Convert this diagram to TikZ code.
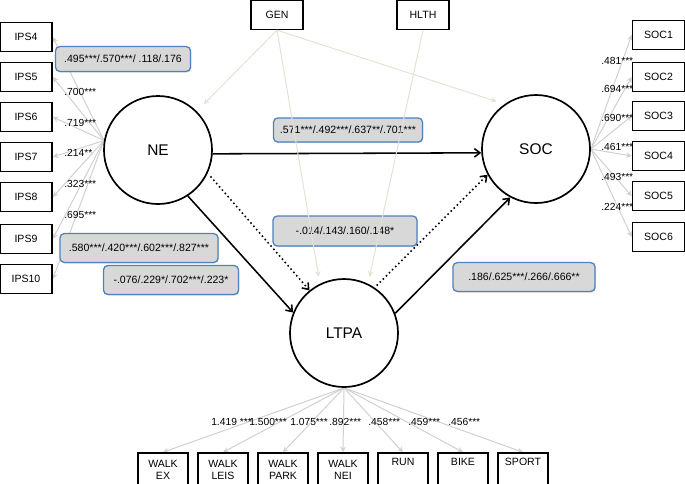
\documentclass[tikz,border=0pt]{standalone}
\usepackage{fontspec}
\setmainfont{Liberation Sans}
\usetikzlibrary{arrows.meta, shadows}
\definecolor{borde}{RGB}{79,129,189}
\definecolor{relleno}{RGB}{216,216,216}
\definecolor{guia}{RGB}{228,226,212}
\definecolor{gris}{RGB}{208,208,208}
\pgfdeclarelayer{fondo}
\pgfsetlayers{fondo,main}

\begin{document}
\begin{tikzpicture}[x = .025cm, y = -.025cm,
  caja/.style = {draw, fill = white, line width = 1.1, minimum width = 1.3cm, minimum height = .72cm,
    inner sep = 1pt, font = \fontsize{7.5}{9}\selectfont},
  abajo/.style = {caja, minimum width = 1.25cm, minimum height = .85cm, align = center},
  latente/.style = {draw, circle, fill = white, line width = 1.2, minimum size = 2.7cm,
    font = \fontsize{11}{13}\selectfont},
  coef/.style = {anchor = west, inner sep = 0pt, font = \fontsize{7.3}{8}\selectfont},
  cuadro/.style = {draw = borde, fill = relleno, rounded corners = 3pt, line width = .9,
    font = \fontsize{7.5}{9}\selectfont,
    drop shadow = {opacity = .25, shadow xshift = .6pt, shadow yshift = -.8pt}},
  efecto/.style = {-{Straight Barb[length = 4pt, width = 6pt]}, line width = 1.1},
  carga/.style = {-{Stealth[length = 4pt, width = 4pt]}, line width = .7, gris},
  control/.style = {-{Stealth[length = 4pt, width = 4pt]}, line width = .7, guia}
]
\useasboundingbox (0, 0) rectangle (685, 483);

% loadings
\foreach \v/\y [count = \k] in {.700***/92, .719***/123, .214**/153, .323***/184, .695***/215}
  \node[coef] (cne\k) at (64, \y) {\v};
\foreach \v/\y [count = \k] in {.481***/61, .694***/89, .690***/118, .461***/147, .493***/177, .224***/207}
  \node[coef] (csoc\k) at (601, \y) {\v};
\foreach \v/\x [count = \k] in {1.419 ***/211, 1.500***/249, 1.075***/290, .892***/329, .458***/368,
  .459***/408, .456***/448}
  \node[coef] (cltpa\k) at (\x, 422) {\v};

% latent variables
\node[latente] (NE) at (158, 150) {NE};
\node[latente] (SOC) at (536, 149) {SOC};
\node[latente] (LTPA) at (344, 333) {LTPA};

% observed variables
\node[caja] (GEN) at (277, 15) {GEN};
\node[caja] (HLTH) at (423, 15) {HLTH};
\foreach \i/\y in {4/37, 5/77, 6/117, 7/157, 8/197, 9/239, 10/279}{
  \node[caja] (ips\i) at (26, \y) {IPS\i};
  \begin{pgfonlayer}{fondo}
    \draw[carga] (NE.170) -- (ips\i.east);
  \end{pgfonlayer}
}
\foreach \i/\y in {1/35, 2/77, 3/116, 4/156, 5/196, 6/237}{
  \node[caja] (soc\i) at (658.5, \y) {SOC\i};
  \begin{pgfonlayer}{fondo}
    \draw[carga] (SOC.east) -- (soc\i.west);
  \end{pgfonlayer}
}
\foreach \n/\x/\t in {ex/163/{WALK\\EX}, leis/223/{WALK\\LEIS}, park/283/{WALK\\PARK},
  nei/343/{WALK\\NEI}, run/403/{RUN\\\strut}, bike/463/{BIKE\\\strut}, sport/523/{SPORT\\\strut}}{
  \node[abajo] (\n) at (\x, 470) {\t};
  \begin{pgfonlayer}{fondo}
    \draw[carga] (LTPA.south) -- (\n.north);
  \end{pgfonlayer}
}

% coefficient boxes
\node[cuadro, minimum width = 3.375cm, minimum height = .62cm] (b1) at (123, 59) {.495***/.570***/ .118/.176};
\node[cuadro, minimum width = 3.95cm, minimum height = .72cm] (b2) at (139, 248) {.580***/.420***/.602***/.827***};
\node[cuadro, minimum width = 3.375cm, minimum height = .72cm] (b3) at (171, 280) {-.076/.229*/.702***/.223*};
\node[cuadro, minimum width = 3.725cm, minimum height = .6cm] (b4) at (348, 130) {.571***/.492***/.637**/.701***};
\node[cuadro, minimum width = 3.6cm, minimum height = .75cm] (b5) at (345, 231) {-.014/.143/.160/.148*};
\node[cuadro, minimum width = 3.55cm, minimum height = .72cm] (b6) at (524, 277) {.186/.625***/.266/.666**};

% paths
\draw[efecto] (NE.-4) -- (SOC.184);
\draw[efecto] (NE.-57) -- (LTPA.158);
\draw[efecto, dotted, shorten < = 3pt] (NE.-25) -- (LTPA.129);
\draw[efecto, dotted, shorten < = 2pt] (LTPA.56) -- (SOC.208);
\draw[efecto] (LTPA.21) -- (SOC.242);

% covariates
\draw[control, shorten > = 7pt] (GEN.south) -- (NE.45);
\draw[control, shorten > = 6pt] (GEN.south) -- (SOC.125);
\draw[control, shorten > = 5pt] (GEN.south) -- (LTPA.116);
\draw[control, shorten > = 5pt] (HLTH.south) -- (LTPA.64);
\end{tikzpicture}
\end{document}
